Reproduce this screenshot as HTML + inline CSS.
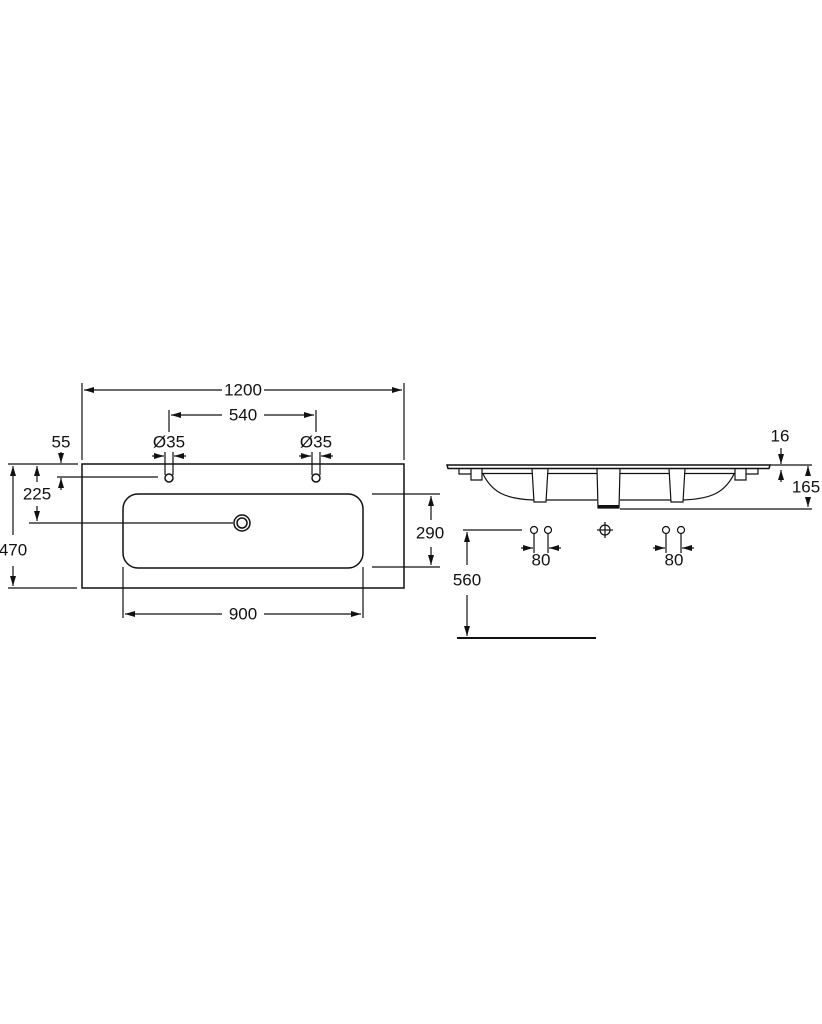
<!DOCTYPE html>
<html><head><meta charset="utf-8"><style>
html,body{margin:0;padding:0;background:#fff}
svg{display:block}
text{font-family:"Liberation Sans",sans-serif;font-size:17px;fill:#111;text-anchor:middle;dominant-baseline:central}
</style></head><body>
<svg width="822" height="1024" viewBox="0 0 822 1024" xmlns="http://www.w3.org/2000/svg">
<defs>
<marker id="a" viewBox="0 0 10 6" refX="10" refY="3" markerWidth="10" markerHeight="6" orient="auto-start-reverse" markerUnits="userSpaceOnUse"><path d="M0,0L10,3L0,6z" fill="#111"/></marker>
</defs>
<g stroke="#111" stroke-width="1.2" fill="none">
<rect x="82" y="464" width="322" height="124" stroke-width="1.5"/>
<rect x="123" y="494" width="240" height="74" rx="15" stroke-width="1.5"/>
<circle cx="169" cy="478" r="4" stroke-width="1.5"/>
<circle cx="316" cy="478" r="4" stroke-width="1.5"/>
<circle cx="242" cy="523" r="8" stroke-width="1.5"/>
<circle cx="242" cy="523" r="5" stroke-width="1.5"/>
<line x1="82" y1="383" x2="82" y2="460"/><line x1="404" y1="383" x2="404" y2="460"/>
<line x1="84" y1="390" x2="222" y2="390" marker-start="url(#a)"/><line x1="264" y1="390" x2="402" y2="390" marker-end="url(#a)"/>
<line x1="169" y1="410" x2="169" y2="432"/><line x1="316" y1="410" x2="316" y2="432"/>
<line x1="171" y1="415" x2="222" y2="415" marker-start="url(#a)"/><line x1="264" y1="415" x2="314" y2="415" marker-end="url(#a)"/>
<line x1="165" y1="452" x2="165" y2="475"/><line x1="173" y1="452" x2="173" y2="475"/>
<line x1="152" y1="456" x2="164" y2="456" marker-end="url(#a)"/><line x1="186" y1="456" x2="174" y2="456" marker-end="url(#a)"/>
<line x1="312" y1="452" x2="312" y2="475"/><line x1="320" y1="452" x2="320" y2="475"/>
<line x1="299" y1="456" x2="311" y2="456" marker-end="url(#a)"/><line x1="333" y1="456" x2="321" y2="456" marker-end="url(#a)"/>
<line x1="8" y1="464" x2="78" y2="464"/>
<line x1="57" y1="477" x2="158" y2="477"/>
<line x1="61" y1="452" x2="61" y2="463" marker-end="url(#a)"/>
<line x1="61" y1="490" x2="61" y2="478" marker-end="url(#a)"/>
<line x1="29" y1="523" x2="233" y2="523"/>
<line x1="37" y1="482" x2="37" y2="466" marker-end="url(#a)"/>
<line x1="37" y1="506" x2="37" y2="521" marker-end="url(#a)"/>
<line x1="8" y1="588" x2="77" y2="588"/>
<line x1="13" y1="535" x2="13" y2="466" marker-end="url(#a)"/>
<line x1="13" y1="566" x2="13" y2="586" marker-end="url(#a)"/>
<line x1="372" y1="494" x2="440" y2="494"/><line x1="372" y1="567" x2="440" y2="567"/>
<line x1="431" y1="520" x2="431" y2="496" marker-end="url(#a)"/>
<line x1="431" y1="547" x2="431" y2="565" marker-end="url(#a)"/>
<line x1="123" y1="567" x2="123" y2="618"/><line x1="363" y1="567" x2="363" y2="618"/>
<line x1="125" y1="614" x2="222" y2="614" marker-start="url(#a)"/><line x1="264" y1="614" x2="361" y2="614" marker-end="url(#a)"/>

<path d="M447,465 L770,465 L769,468.5 L448,468.5 Z" stroke-width="1.5"/>
<g id="half">
<path d="M459,468.5 V474 H471"/>
<path d="M471,468.5 V480 H482 V468.5"/>
<line x1="482" y1="473.5" x2="532" y2="473.5"/>
<line x1="548" y1="473.5" x2="597" y2="473.5"/>
<path d="M483,474 C492,492 505,499 534,500"/>
<path d="M532,468.5 L534,502 H546 L548,468.5"/>
<line x1="546" y1="500" x2="597" y2="500"/>
<path d="M597,468.5 L598,508 H608.5"/>
</g>
<use href="#half" transform="translate(1217,0) scale(-1,1)"/>
<rect x="598" y="505" width="21" height="3" fill="#111" stroke="none"/>
<line x1="770" y1="465" x2="790" y2="465"/>
<line x1="781" y1="448" x2="781" y2="464" marker-end="url(#a)"/>
<line x1="781" y1="482" x2="781" y2="470" marker-end="url(#a)"/>
<line x1="620" y1="509" x2="812" y2="509"/>
<line x1="790" y1="465" x2="812" y2="465"/>
<line x1="808" y1="476" x2="808" y2="466" marker-end="url(#a)"/>
<line x1="808" y1="498" x2="808" y2="507" marker-end="url(#a)"/>
<circle cx="534" cy="530" r="3.5"/><circle cx="548" cy="530" r="3.5"/>
<circle cx="666" cy="530" r="3.5"/><circle cx="681" cy="530" r="3.5"/>
<circle cx="605" cy="530" r="5"/>
<line x1="605" y1="522" x2="605" y2="538"/><line x1="597" y1="530" x2="613" y2="530"/>
<line x1="534" y1="534" x2="534" y2="553"/><line x1="548" y1="534" x2="548" y2="553"/>
<line x1="521" y1="548" x2="533" y2="548" marker-end="url(#a)"/><line x1="561" y1="548" x2="549" y2="548" marker-end="url(#a)"/>
<line x1="666" y1="534" x2="666" y2="553"/><line x1="681" y1="534" x2="681" y2="553"/>
<line x1="653" y1="548" x2="665" y2="548" marker-end="url(#a)"/><line x1="694" y1="548" x2="682" y2="548" marker-end="url(#a)"/>
<line x1="463" y1="530" x2="522" y2="530"/>
<line x1="467" y1="565" x2="467" y2="532" marker-end="url(#a)"/>
<line x1="467" y1="595" x2="467" y2="636" marker-end="url(#a)"/>
<line x1="457" y1="638" x2="596" y2="638" stroke-width="2"/>
</g>
<text x="243" y="390">1200</text>
<text x="243" y="415">540</text>
<text x="169" y="442">Ø35</text>
<text x="316" y="442">Ø35</text>
<text x="61" y="442">55</text>
<text x="37" y="494">225</text>
<text x="13" y="550">470</text>
<text x="430" y="533">290</text>
<text x="243" y="614">900</text>
<text x="780" y="436">16</text>
<text x="806" y="487">165</text>
<text x="541" y="560">80</text>
<text x="674" y="560">80</text>
<text x="467" y="580">560</text>
</svg>
</body></html>
